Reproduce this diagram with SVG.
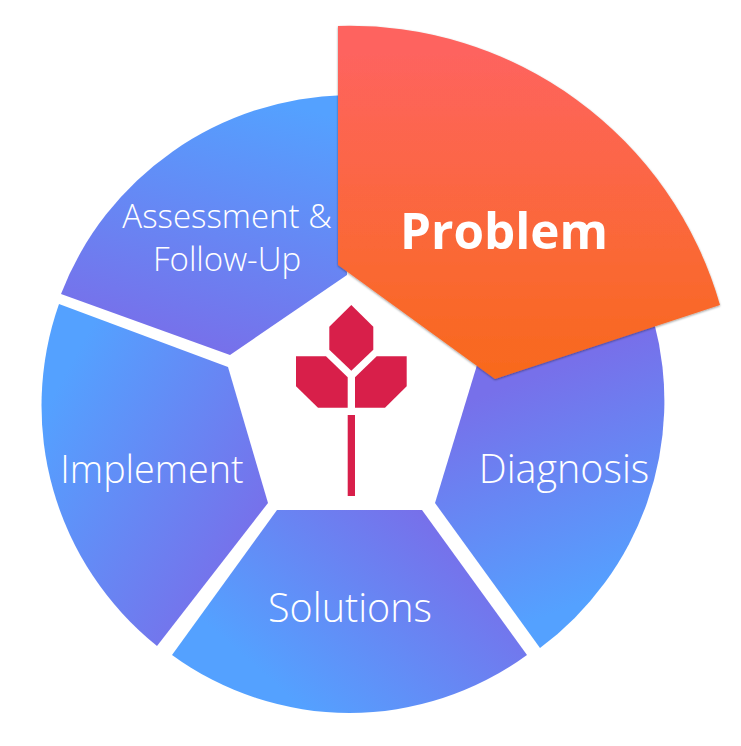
<svg xmlns="http://www.w3.org/2000/svg" width="741" height="746" viewBox="0 0 741 746">
<style>
text{font-family:"Open Sans","Noto Sans",sans-serif;fill:#fff;text-anchor:middle}
.lab{font-weight:300;font-size:39.5px}
.small{font-weight:300;font-size:33px}
.logo{fill:#d81f4a}
</style>
<defs>
<linearGradient id="gA" gradientUnits="userSpaceOnUse" x1="270" y1="100" x2="205" y2="350"><stop offset="0" stop-color="#54a1ff"/><stop offset="1" stop-color="#7770ea"/></linearGradient>
<linearGradient id="gI" gradientUnits="userSpaceOnUse" x1="50" y1="400" x2="265" y2="520"><stop offset="0" stop-color="#54a1ff"/><stop offset="1" stop-color="#7770ea"/></linearGradient>
<linearGradient id="gS" gradientUnits="userSpaceOnUse" x1="270" y1="680" x2="420" y2="510"><stop offset="0" stop-color="#54a1ff"/><stop offset="1" stop-color="#7770ea"/></linearGradient>
<linearGradient id="gD" gradientUnits="userSpaceOnUse" x1="590" y1="600" x2="510" y2="385"><stop offset="0" stop-color="#54a1ff"/><stop offset="1" stop-color="#7770ea"/></linearGradient>
<linearGradient id="gP" gradientUnits="userSpaceOnUse" x1="500" y1="50" x2="500" y2="379"><stop offset="0" stop-color="#fe645f"/><stop offset="1" stop-color="#f8691c"/></linearGradient>
<filter id="sh" x="-5%" y="-5%" width="110%" height="110%"><feDropShadow dx="0" dy="1" stdDeviation="1" flood-color="#000" flood-opacity="0.4"/></filter>
</defs>
<g id="connectors"/>
<g id="node-assessment">
<path d="M61 294A312 309 0 0 1 345 95L347 275L230 355Z" fill="url(#gA)"/>
<text class="small" x="227" y="228">Assessment &amp;</text>
<text class="small" x="227" y="271">Follow-Up</text>
</g>
<g id="node-implement">
<path d="M59 304L228 367L268 503L157 646A312 309 0 0 1 59 304Z" fill="url(#gI)"/>
<text class="lab" x="152" y="483" style="font-size:37.7px">Implement</text>
</g>
<g id="node-solutions">
<path d="M277 510H422L527 655A301 301 0 0 1 172 655Z" fill="url(#gS)"/>
<text class="lab" x="350" y="622">Solutions</text>
</g>
<g id="node-diagnosis">
<path d="M477 365L654 322A312 309 0 0 1 540 648L435 503Z" fill="url(#gD)"/>
<text class="lab" x="564" y="483">Diagnosis</text>
</g>
<g id="node-problem">
<path d="M338 26A385 385 0 0 1 720 305L495 379L338 265Z" fill="url(#gP)" filter="url(#sh)"/>
<text x="504" y="249" font-size="49.4" font-weight="700">Problem</text>
</g>
<g id="node-logo" class="logo">
<polygon points="351.3,305 373.3,326.7 373.3,349.7 351.3,370.7 329.3,349.7 329.3,326.7"/>
<polygon points="296,356.3 326,356.3 347.7,377.3 347.7,407.7 318,407.7 296,386.3"/>
<polygon points="355,377.3 376.7,356.3 406.7,356.3 406.7,386.3 385,407.7 355,407.7"/>
<rect x="347.7" y="415" width="7.3" height="81"/>
</g>
</svg>
